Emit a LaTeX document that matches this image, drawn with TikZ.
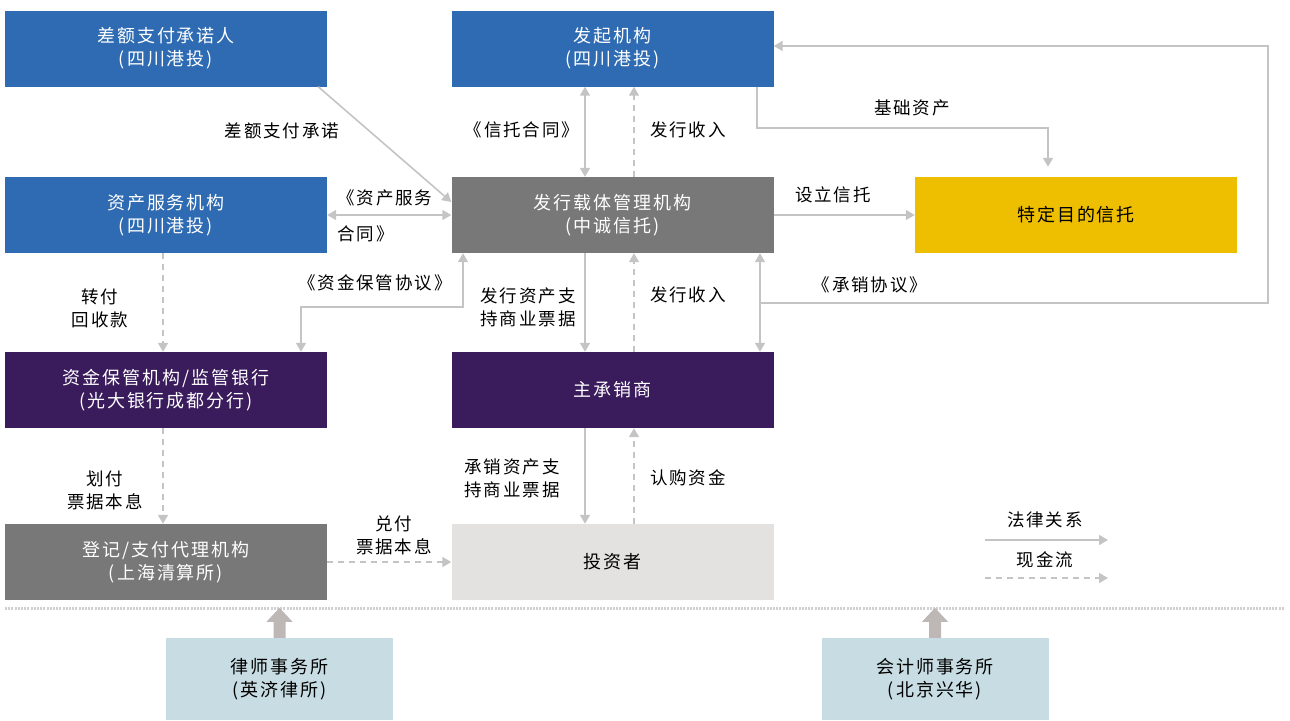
\documentclass[tikz,border=0pt]{standalone}
\usepackage{fontspec}
\setmainfont{Noto Sans CJK SC}
\newfontfamily\cjkbox[LetterSpace=11]{Noto Sans CJK SC}
\usetikzlibrary{arrows.meta,calc}
\definecolor{cblue}{HTML}{2E6BB2}
\definecolor{cgray}{HTML}{787878}
\definecolor{cyel}{HTML}{EEBE00}
\definecolor{cpur}{HTML}{3A1B5C}
\definecolor{clg}{HTML}{E4E1E1}
\definecolor{clb}{HTML}{C8DCE3}
\definecolor{cline}{HTML}{C4C4C4}
\definecolor{cthick}{HTML}{BDB8B6}
\begin{document}
\begin{tikzpicture}[x=1pt,y=-1pt,
  box/.style={rectangle, minimum width=322pt, minimum height=76pt, inner sep=0pt, align=center, font=\cjkbox\fontsize{18}{23}\selectfont},
  dark/.style={box, fill=#1, text=white},
  light/.style={box, fill=#1, text=black},
  small/.style={rectangle, minimum width=227pt, minimum height=82pt, inner sep=0pt, align=center, fill=clb, font=\cjkbox\fontsize{18}{23}\selectfont},
  lab/.style={inner sep=0pt, align=center, font=\cjkbox\fontsize{17.5}{23}\selectfont},
  legal/.style={draw=cline, line width=1.6pt, -{Triangle[length=9pt,width=10pt]}},
  legal2/.style={draw=cline, line width=1.6pt, {Triangle[length=9pt,width=10pt]}-{Triangle[length=9pt,width=10pt]}},
  cash/.style={draw=cline, line width=1.6pt, dash pattern=on 6pt off 5pt, -{Triangle[length=9pt,width=10pt]}}
]
\useasboundingbox (0,0) rectangle (1290,720);

% boxes
\node[dark=cblue] (diff) at (166,48.5) {差额支付承诺人\\(四川港投)};
\node[dark=cblue] (orig) at (612.5,48.5) {发起机构\\(四川港投)};
\node[dark=cblue] (svc) at (166,215) {资产服务机构\\(四川港投)};
\node[dark=cgray] (mgr) at (612.5,215) {发行载体管理机构\\(中诚信托)};
\node[light=cyel] (spt) at (1076,215) {特定目的信托};
\node[dark=cpur] (bank) at (166,390) {资金保管机构/监管银行\\(光大银行成都分行)};
\node[dark=cpur] (uw) at (612.5,390) {主承销商};
\node[dark=cgray] (reg) at (166,562) {登记/支付代理机构\\(上海清算所)};
\node[light=clg] (inv) at (612.5,562) {投资者};
\node[small] (law) at (279.5,679) {律师事务所\\(英济律所)};
\node[small] (acct) at (935,679) {会计师事务所\\(北京兴华)};

% helper coordinates
\coordinate (xL) at (163,0);
\coordinate (xA) at (585,0);
\coordinate (xB) at (634,0);
\coordinate (xC) at (760,0);
\coordinate (xD) at (757,0);
\coordinate (xE) at (1048,0);
\coordinate (xR) at (1268,0);
\coordinate (xF) at (301,0);
\coordinate (xG) at (463,0);
\coordinate (yBase) at (0,128);
\coordinate (yUW) at (0,303);
\coordinate (yBK) at (0,307);
\coordinate (yTop) at (0,46);

% connectors
\draw[legal] ([xshift=-9pt]diff.south east) -- ([yshift=13pt]mgr.west);
\draw[legal2] (svc.east) -- (mgr.west);
\draw[legal2] (orig.south -| xA) -- (mgr.north -| xA);
\draw[cash] (mgr.north -| xB) -- (orig.south -| xB);
\draw[legal] (orig.south -| xD) -- (xD |- yBase) -- (xE |- yBase) -- ([yshift=10pt]spt.north -| xE);
\draw[legal] (mgr.east) -- (spt.west);
\draw[legal2] (mgr.south -| xC) -- (uw.north -| xC);
\draw[legal] (xC |- yUW) -- (xR |- yUW) -- (xR |- yTop) -- (orig.east |- yTop);
\draw[legal2] (bank.north -| xF) -- (xF |- yBK) -- (xG |- yBK) -- (mgr.south -| xG);
\draw[cash] (svc.south -| xL) -- (bank.north -| xL);
\draw[legal] (mgr.south -| xA) -- (uw.north -| xA);
\draw[cash] (uw.north -| xB) -- (mgr.south -| xB);
\draw[cash] (bank.south -| xL) -- (reg.north -| xL);
\draw[legal] (uw.south -| xA) -- (inv.north -| xA);
\draw[cash] (inv.north -| xB) -- (uw.south -| xB);
\draw[cash] (reg.east) -- (inv.west);

% labels
\node[lab] (l1) at (282,131) {差额支付承诺};
\node[lab, anchor=west] (l2a) at (337,198) {《资产服务};
\node[lab, anchor=west] (l2b) at (337,234) {合同》};
\node[lab] (l3) at (522,130) {《信托合同》};
\node[lab] (l4) at (688,130) {发行收入};
\node[lab] (l5) at (912,108) {基础资产};
\node[lab] (l6) at (833,195) {设立信托};
\node[lab] (l7) at (375,283) {《资金保管协议》};
\node[lab] (l8) at (100,308) {转付\\回收款};
\node[lab] (l9) at (528,307) {发行资产支\\持商业票据};
\node[lab] (l10) at (688,295) {发行收入};
\node[lab] (l11) at (870,285) {《承销协议》};
\node[lab] (l12) at (105,490) {划付\\票据本息};
\node[lab] (l13) at (512,478) {承销资产支\\持商业票据};
\node[lab] (l14) at (688,478) {认购资金};
\node[lab] (l15) at (394,535) {兑付\\票据本息};

% legend
\coordinate (g1a) at (985,540);
\coordinate (g1b) at (1108,540);
\coordinate (g2a) at (985,578);
\coordinate (g2b) at (1108,578);
\draw[legal] (g1a) -- (g1b);
\draw[cash] (g2a) -- (g2b);
\node[lab] (lg1) at (1045,520) {法律关系};
\node[lab] (lg2) at (1045,560) {现金流};

% separator
\draw[cline!80, line width=3pt, dash pattern=on 2pt off 1.2pt] (5,608) -- (1285,608);

% thick arrows
\fill[cthick] (law.north) ++(-6,0) -- ++(0,-16) -- ++(-7,0) -- ++(13,-14) -- ++(13,14) -- ++(-7,0) -- ++(0,16) -- cycle;
\fill[cthick] (acct.north) ++(-6,0) -- ++(0,-16) -- ++(-7,0) -- ++(13,-14) -- ++(13,14) -- ++(-7,0) -- ++(0,16) -- cycle;
\end{tikzpicture}
\end{document}
